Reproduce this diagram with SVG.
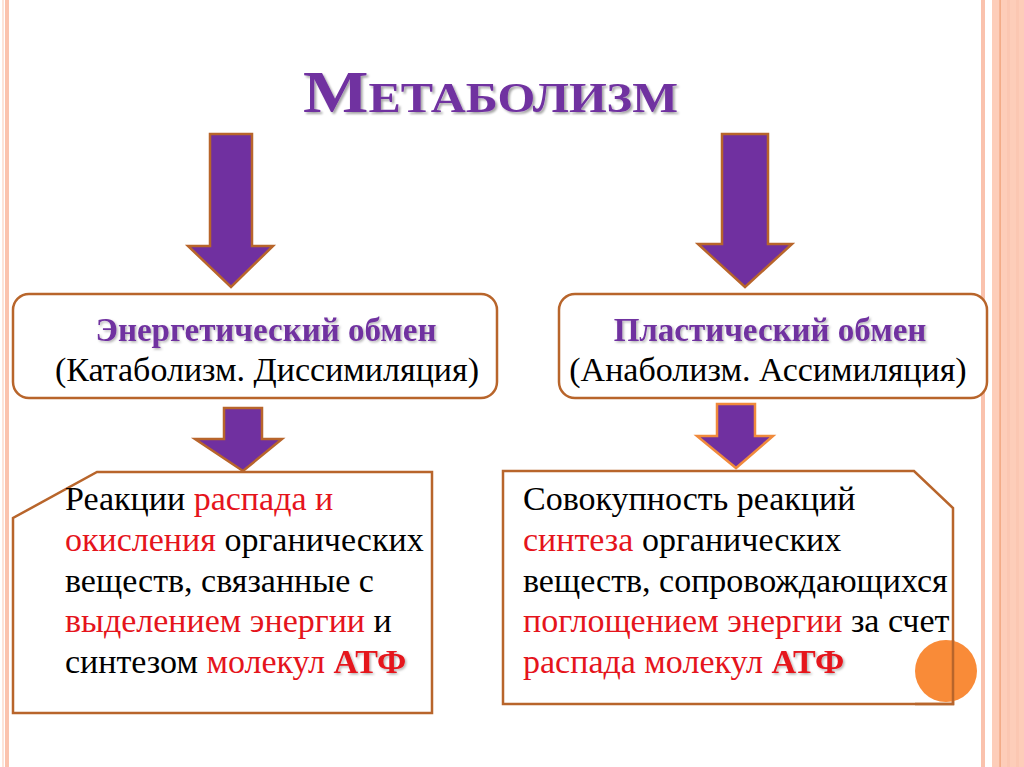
<svg xmlns="http://www.w3.org/2000/svg" width="1024" height="767" viewBox="0 0 1024 767">
<defs>
<filter id="sh" x="-5%" y="-20%" width="115%" height="150%">
<feDropShadow dx="2" dy="2" stdDeviation="1.2" flood-color="#000" flood-opacity="0.35"/>
</filter>
<filter id="sh2" x="-10%" y="-20%" width="130%" height="150%">
<feDropShadow dx="1.5" dy="1.5" stdDeviation="1" flood-color="#000" flood-opacity="0.3"/>
</filter>
</defs>
<style>
.arrow{fill:#7030A0;stroke:#B8652B;stroke-width:2.5;stroke-linejoin:miter}
.arrowL{fill:#7030A0;stroke:#F08A3C;stroke-width:2.5}
.box{fill:#fff;stroke:#B8652B;stroke-width:2.5}
.line{fill:none;stroke:#B8652B;stroke-width:2.5}
.head{font-family:"Liberation Serif",serif;font-weight:bold;font-size:33px;fill:#7030A0;text-anchor:middle}
.sub{font-family:"Liberation Serif",serif;font-size:34px;fill:#000;text-anchor:middle}
.body{font-family:"Liberation Serif",serif;font-size:34px;fill:#000}
.r{fill:#E5141C}
.b{font-weight:bold}
</style>
<rect width="1024" height="767" fill="#fff"/>
<g id="decor">
<rect x="2" y="0" width="2" height="767" fill="#FDE4D9"/>
<rect x="5" y="0" width="4" height="767" fill="#FBC3AE"/>
<rect x="981" y="0" width="4" height="767" fill="#FAC2AD"/>
<rect x="992" y="0" width="32" height="767" fill="#FDCDB9"/>
<rect x="999.5" y="0" width="1.2" height="767" fill="#EE9E74"/>
<rect x="1007" y="0" width="3" height="767" fill="#FBC7B2"/>
<rect x="1016" y="0" width="3" height="767" fill="#FBC7B2"/>
</g>
<g id="title">
<text x="303" y="112" font-family="Liberation Serif, serif" font-weight="bold" font-size="60" fill="#7030A0" font-variant="small-caps" textLength="375" lengthAdjust="spacingAndGlyphs" filter="url(#sh)">Метаболизм</text>
</g>
<g id="connectors">
<polygon class="arrow" points="210,134 252,134 252,246 273,246 231,287 188,246 210,246"/>
<polygon class="arrow" points="722,134 768,134 768,244 792,244 745,287 698,244 722,244"/>
<polygon class="arrow" points="224,408 262,408 262,439 282,439 243,471 195,439 224,439"/>
<polygon class="arrowL" points="717,404 755,404 755,436 773,436 736,468 697,436 717,436"/>
</g>
<g id="energy">
<rect class="box" x="13" y="294" width="484" height="104" rx="16"/>
<text class="head" x="266" y="341" filter="url(#sh2)">Энергетический обмен</text>
<text class="sub" x="267" y="381">(Катаболизм. Диссимиляция)</text>
</g>
<g id="plastic">
<rect class="box" x="559" y="294" width="428" height="104" rx="16"/>
<text class="head" x="770" y="341" filter="url(#sh2)">Пластический обмен</text>
<text class="sub" x="768" y="381">(Анаболизм. Ассимиляция)</text>
</g>
<g id="catabolism">
<polygon class="box" points="97,472 432,472 432,713 13,713 13,518"/>
<text class="body" x="65" y="510">Реакции <tspan class="r">распада и</tspan></text>
<text class="body" x="65" y="551"><tspan class="r">окисления</tspan> органических</text>
<text class="body" x="65" y="592">веществ, связанные с</text>
<text class="body" x="65" y="632"><tspan class="r">выделением энергии</tspan> и</text>
<text class="body" x="65" y="673">синтезом <tspan class="r">молекул </tspan><tspan class="r b" filter="url(#sh2)">АТФ</tspan></text>
</g>
<g id="anabolism">
<polygon class="box" points="503,471 914,471 953,508 953,704 503,704"/>
<text class="body" x="523" y="510">Совокупность реакций</text>
<text class="body" x="523" y="551"><tspan class="r">синтеза</tspan> органических</text>
<text class="body" x="523" y="592">веществ, сопровождающихся</text>
<text class="body" x="523" y="632"><tspan class="r">поглощением энергии</tspan> за счет</text>
<text class="body" x="523" y="673"><tspan class="r">распада молекул </tspan><tspan class="r b" filter="url(#sh2)">АТФ</tspan></text>
<circle cx="946" cy="671" r="31" fill="#F98B38"/>
<polyline class="line" points="953,640 953,704 915,704"/>
</g>
</svg>
